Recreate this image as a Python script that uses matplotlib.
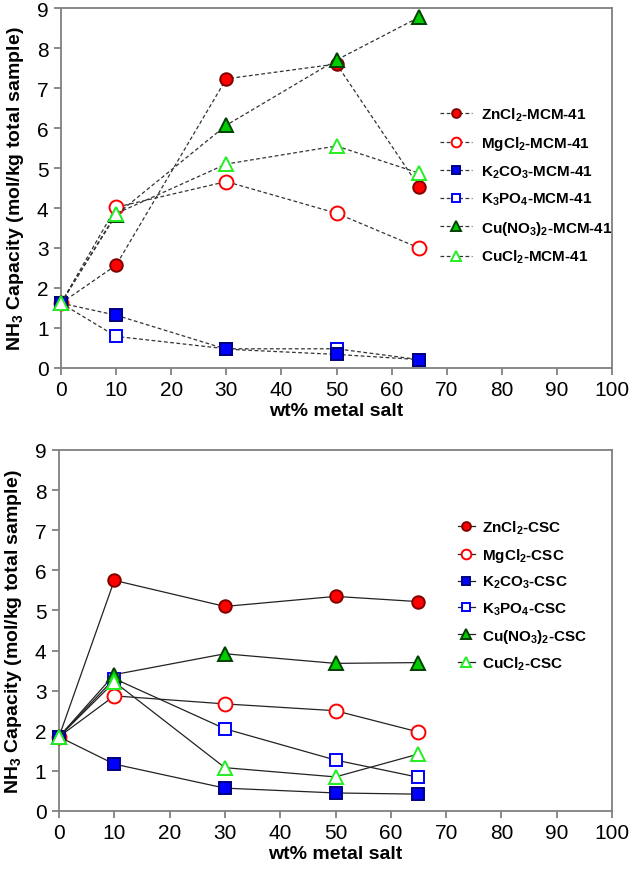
import matplotlib
matplotlib.use('Agg')
import matplotlib.pyplot as plt

plt.rcParams['font.family'] = ['Liberation Sans', 'DejaVu Sans']
plt.rcParams['mathtext.default'] = 'regular'

wt = [0, 10, 30, 50, 65]

# MCM-41 supported salts (top panel)
mcm_names = ['ZnCl$_2$-MCM-41', 'MgCl$_2$-MCM-41', 'K$_2$CO$_3$-MCM-41',
             'K$_3$PO$_4$-MCM-41', 'Cu(NO$_3$)$_2$-MCM-41', 'CuCl$_2$-MCM-41']
mcm_zncl2 = [1.62, 2.57, 7.23, 7.60, 4.53]
mcm_mgcl2 = [1.62, 4.02, 4.66, 3.87, 3.00]
mcm_k2co3 = [1.62, 1.32, 0.47, 0.34, 0.21]
mcm_k3po4 = [1.62, 0.79, 0.48, 0.48, 0.21]
mcm_cuno3 = [1.62, 3.83, 6.07, 7.70, 8.77]
mcm_cucl2 = [1.62, 3.86, 5.10, 5.55, 4.87]

# CSC supported salts (bottom panel)
csc_names = ['ZnCl$_2$-CSC', 'MgCl$_2$-CSC', 'K$_2$CO$_3$-CSC',
             'K$_3$PO$_4$-CSC', 'Cu(NO$_3$)$_2$-CSC', 'CuCl$_2$-CSC']
csc_zncl2 = [1.85, 5.75, 5.10, 5.35, 5.22]
csc_mgcl2 = [1.85, 2.87, 2.67, 2.50, 1.97]
csc_k2co3 = [1.85, 1.17, 0.57, 0.45, 0.42]
csc_k3po4 = [1.85, 3.30, 2.05, 1.27, 0.84]
csc_cuno3 = [1.85, 3.40, 3.92, 3.68, 3.70]
csc_cucl2 = [1.85, 3.22, 1.08, 0.85, 1.42]

red = '#ff0000'
blue = '#0000ff'
green = '#00cc00'
lgreen = '#22ee22'
# (marker, face, edge, size, zorder)
styles = [
    ('o', red, '#800000', 9, 3),
    ('o', 'white', red, 10, 3),
    ('s', blue, '#000080', 9, 5),
    ('s', 'white', blue, 9, 4),
    ('^', green, '#004000', 9.5, 6),
    ('^', 'white', lgreen, 10, 6),
]

spine_col = '#808080'


def style_axes(ax):
    ax.set_xlim(0, 100)
    ax.set_ylim(0, 9)
    ax.set_xticks(range(0, 101, 10))
    ax.set_yticks(range(0, 10))
    for s in ax.spines.values():
        s.set_color(spine_col)
        s.set_linewidth(1.3)
    ax.tick_params(direction='out', length=5, width=1.3, color=spine_col,
                   labelsize=15, pad=4)
    ax.set_xlabel('wt% metal salt', fontsize=14, fontweight='bold', labelpad=2)
    ax.set_ylabel('NH$_3$ Capacity (mol/kg total sample)', fontsize=14,
                  fontweight='bold', labelpad=8)


fig = plt.figure(figsize=(6.36, 8.70), dpi=100)
ax1 = fig.add_axes([61 / 636, 1 - 369 / 870, 551 / 636, 360 / 870])
ax2 = fig.add_axes([59 / 636, 1 - 812 / 870, 553 / 636, 361 / 870])

mcm_data = [mcm_zncl2, mcm_mgcl2, mcm_k2co3, mcm_k3po4, mcm_cuno3, mcm_cucl2]
csc_data = [csc_zncl2, csc_mgcl2, csc_k2co3, csc_k3po4, csc_cuno3, csc_cucl2]

for ys, name, (m, fc, ec, ms, z) in zip(mcm_data, mcm_names, styles):
    ax1.plot(wt, ys, ls=(0, (3, 2)), color='#333333', lw=0.9, marker=m,
             mfc=fc, mec=ec, ms=ms, mew=1.4, label=name, clip_on=False,
             zorder=z)
for ys, name, (m, fc, ec, ms, z) in zip(csc_data, csc_names, styles):
    ax2.plot(wt, ys, ls='-', color='#222222', lw=0.9, marker=m,
             mfc=fc, mec=ec, ms=ms, mew=1.4, label=name, clip_on=False,
             zorder=z)

for ax in (ax1, ax2):
    style_axes(ax)

leg_kw = dict(frameon=False, prop={'weight': 'bold', 'size': 11},
              markerscale=0.7, borderpad=0, borderaxespad=0)
ax1.legend(loc='upper left', bbox_to_anchor=(0.688, 0.73),
           handlelength=2.1, handletextpad=0.6, labelspacing=0.74, **leg_kw)
ax2.legend(loc='upper left', bbox_to_anchor=(0.7215, 0.81),
           handlelength=1.1, handletextpad=0.5, labelspacing=0.65, **leg_kw)

fig.savefig('out.png', dpi=100)
